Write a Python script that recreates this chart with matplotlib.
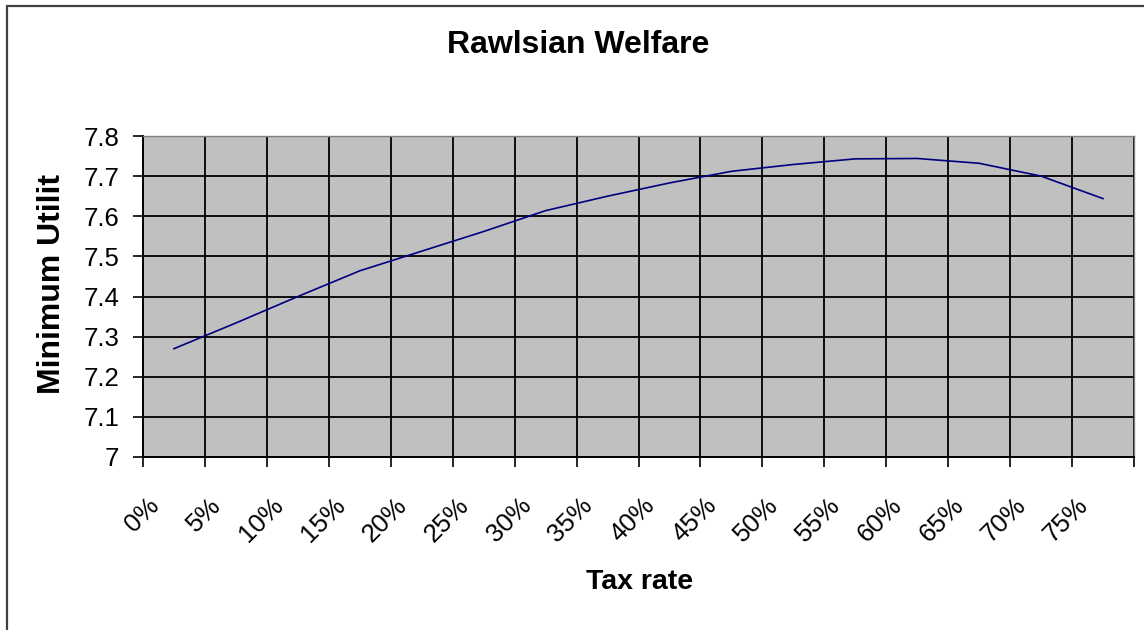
import matplotlib
matplotlib.use("Agg")
import matplotlib.pyplot as plt
from matplotlib.patches import Rectangle
from matplotlib.ticker import FixedLocator, FuncFormatter
from matplotlib.transforms import Bbox, ScaledTranslation

# tax rate categories and the minimum utility
tax_labels = ["0%", "5%", "10%", "15%", "20%", "25%", "30%", "35%",
              "40%", "45%", "50%", "55%", "60%", "65%", "70%", "75%"]
min_utility = [7.270, 7.334, 7.400, 7.464, 7.513, 7.562, 7.614, 7.650,
               7.683, 7.712, 7.729, 7.743, 7.744, 7.732, 7.700, 7.644]
y_ticks = [7.0, 7.1, 7.2, 7.3, 7.4, 7.5, 7.6, 7.7, 7.8]

plt.rcParams['font.family'] = ['Liberation Sans', 'DejaVu Sans']

W, H = 1144, 630
fig = plt.figure(figsize=(W / 100, H / 100), dpi=100)
fig.patch.set_facecolor('white')

# outer chart border (right and bottom edges are cut off in the original)
fig.add_artist(Rectangle((7 / W, -0.1), 1.2, 1 - 6 / H + 0.1, transform=fig.transFigure,
                         fill=False, edgecolor='#404040', linewidth=1.6))

ax = fig.add_axes([143 / W, 1 - 457 / H, (1134 - 143) / W, (457 - 136) / H])
ax.set_facecolor('#C0C0C0')

x = list(range(len(tax_labels)))
ax.plot(x, min_utility, color='#000080', linewidth=1.2, zorder=3)

ax.set_xlim(-0.5, len(tax_labels) - 0.5)
ax.set_ylim(y_ticks[0], y_ticks[-1])

# category boundaries: gridlines and tick marks
bounds = [i - 0.5 for i in range(len(tax_labels) + 1)]
ax.xaxis.set_minor_locator(FixedLocator(bounds))
ax.xaxis.set_major_locator(FixedLocator(x))
ax.set_xticklabels(tax_labels, rotation=45, ha='right', va='top',
                   rotation_mode='anchor', fontsize=18.5)
ax.tick_params(axis='x', which='major', length=0, pad=26)
ax.tick_params(axis='x', which='minor', length=7, width=1.2, color='black')
ax.grid(True, which='minor', axis='x', color='black', linewidth=1.3)
shift = ScaledTranslation(-0.27, 0.0, fig.dpi_scale_trans)
for lab in ax.get_xticklabels():
    lab.set_transform(lab.get_transform() + shift)

ax.set_yticks(y_ticks)
ax.yaxis.set_major_formatter(FuncFormatter(lambda v, p: f"{v:g}"))
ax.tick_params(axis='y', length=7, width=1.2, color='black', labelsize=18.5, pad=10)
ax.grid(True, which='major', axis='y', color='black', linewidth=1.3)
ax.set_axisbelow(True)

for side in ['left', 'bottom']:
    ax.spines[side].set_color('black')
    ax.spines[side].set_linewidth(1.4)
for side in ['top', 'right']:
    ax.spines[side].set_color('#808080')
    ax.spines[side].set_linewidth(1.0)

fig.text(578 / W, 1 - 45 / H, "Rawlsian Welfare", ha='center', va='center',
         fontsize=23, fontweight='bold')
fig.text(640 / W, 1 - 582 / H, "Tax rate", ha='center', va='center',
         fontsize=20.5, fontweight='bold')

# y label is clipped at the top in the original
ylab = fig.text(52 / W, 1 - 394 / H, "Minimum Utility", ha='center', va='bottom',
                rotation=90, fontsize=23, fontweight='bold')
ylab.set_clip_box(Bbox.from_extents(0, 0, W, H - 175))
ylab.set_clip_on(True)

fig.savefig('out.png', dpi=100)
